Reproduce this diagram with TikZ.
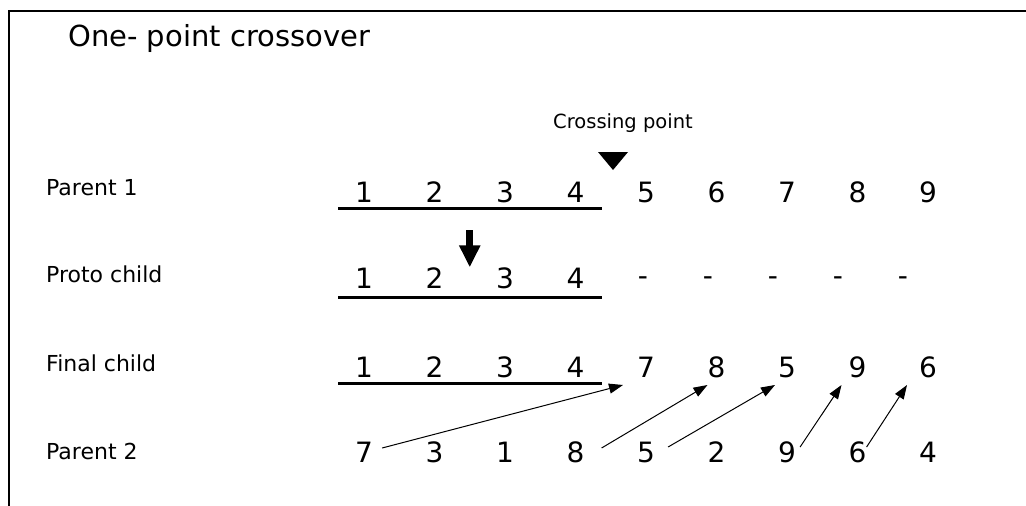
\documentclass[tikz,border=0pt]{standalone}
\usepackage{fontspec}
\setmainfont{DejaVu Sans}
\usetikzlibrary{arrows.meta, positioning, calc}

\begin{document}
\begin{tikzpicture}[
  x=1pt, y=-1pt,
  ttl/.style={anchor=west, inner sep=0pt, font=\fontsize{29}{34}\selectfont},
  rowlbl/.style={anchor=west, inner sep=0pt, font=\fontsize{22}{26}\selectfont},
  num/.style={inner sep=0pt, font=\fontsize{28}{32}\selectfont},
  uline/.style={line width=3pt},
  link/.style={-{Triangle[length=14pt, width=10pt]}, line width=1pt},
  bigarr/.style={-{Triangle[length=22pt, width=20pt]}, line width=7pt},
]
\useasboundingbox (0,0) rectangle (1026,506);
\draw[line width=2pt] (9,506) -- (9,11) -- (1026,11);

%% ---- title and labels ----
\node[ttl] (title) at (68,38) {One- point crossover};
\node[font=\fontsize{19.5}{23}\selectfont, inner sep=0pt] (cross) at (623,123) {Crossing point};
\fill (598,152) -- (628,152) -- (613,170) -- cycle;

\node[rowlbl] (lp1) at (46,188) {Parent 1};
\node[rowlbl] (lpc) at (46,274) {Proto child};
\node[rowlbl] (lfc) at (46,363) {Final child};
\node[rowlbl] (lp2) at (46,451) {Parent 2};

%% ---- genes ----
\foreach \v [count=\i] in {1,...,9}
  \node[num] (p1-\i) at ({364+70.5*(\i-1)},192) {\v};
\foreach \v [count=\i] in {1,2,3,4}
  \node[num] (pc-\i) at ({364+70.5*(\i-1)},278) {\v};
\foreach \x [count=\i] in {643,708,773,838,903}
  \node[num] (pd-\i) at (\x,281) {-};
\foreach \v [count=\i] in {1,2,3,4,7,8,5,9,6}
  \node[num] (fc-\i) at ({364+70.5*(\i-1)},367) {\v};
\foreach \v [count=\i] in {7,3,1,8,5,2,9,6,4}
  \node[num] (p2-\i) at ({364+70.5*(\i-1)},452) {\v};

%% underlines of the kept part
\draw[uline] ([shift={(-26,6)}]p1-1.south) -- ([shift={(26,6)}]p1-4.south);
\draw[uline] ([shift={(-26,9)}]pc-1.south) -- ([shift={(26,9)}]pc-4.south);
\draw[uline] ([shift={(-26,6)}]fc-1.south) -- ([shift={(26,6)}]fc-4.south);

%% copy step
\coordinate (cut) at ($(pc-2.north)!0.5!(pc-3.north)$);
\draw[bigarr] ([yshift=37pt]cut) -- (cut);

%% genes taken from parent 2, in order
\draw[link] ([xshift=9pt,yshift=4pt]p2-1.east) -- ([xshift=-23pt,yshift=-18pt]fc-5.center);
\draw[link] ([xshift=17pt,yshift=4pt]p2-4.east) -- ([xshift=-9pt,yshift=-18pt]fc-6.center);
\draw[link] ([xshift=13pt,yshift=5pt]p2-5.east) -- ([xshift=-12pt,yshift=-18pt]fc-7.center);
\draw[link] ([xshift=4pt,yshift=5pt]p2-7.east) -- ([xshift=-16pt,yshift=-18pt]fc-8.center);
\draw[link] ([xshift=0pt,yshift=5pt]p2-8.east) -- ([xshift=-21pt,yshift=-18pt]fc-9.center);
\end{tikzpicture}
\end{document}
